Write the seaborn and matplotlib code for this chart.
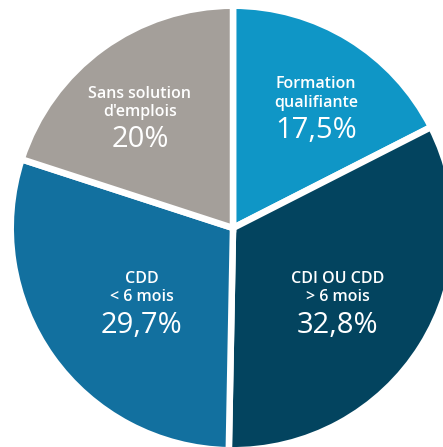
import matplotlib
matplotlib.use("Agg")
import matplotlib.pyplot as plt
import seaborn as sns

# Situation des sortants (part en %)
categories = ["Formation\nqualifiante", "CDI OU CDD\n> 6 mois", "CDD\n< 6 mois", "Sans solution\nd'emplois"]
values = [17.5, 32.8, 29.7, 20.0]
pct_labels = ["17,5%", "32,8%", "29,7%", "20%"]
colors = ["#0f96c6", "#03445f", "#12709f", "#a49f9a"]

sns.set_style("white")
plt.rcParams["font.family"] = ["Open Sans", "DejaVu Sans"]

fig = plt.figure(figsize=(4.43, 4.47), dpi=100)
# square axes, centre of the pie at (233, 228) px, radius 219 px
ax = fig.add_axes([14 / 443, 0 / 447, 438 / 443, 438 / 447])

wedges, _ = ax.pie(values, colors=sns.color_palette(colors), startangle=90, counterclock=False,
                   radius=1.015, wedgeprops=dict(edgecolor="white", linewidth=4.7))
ax.set_xlim(-1, 1)
ax.set_ylim(-1, 1)
ax.set_aspect("equal")
ax.axis("off")

# centre of each percentage; the name sits above it
label_xy = [(0.379, 0.447), (0.479, -0.443), (-0.416, -0.443), (-0.425, 0.402)]
for (x, y), name, pct in zip(label_xy, categories, pct_labels):
    ax.annotate(name, (x, y), xytext=(0, 26.5), textcoords="offset points",
                ha="center", va="center", color="white", fontsize=11.5,
                fontweight="semibold", linespacing=1.2)
    ax.annotate(pct, (x, y), xytext=(0, 0), textcoords="offset points",
                ha="center", va="center", color="white", fontsize=21)

fig.savefig("out.png", dpi=100)
